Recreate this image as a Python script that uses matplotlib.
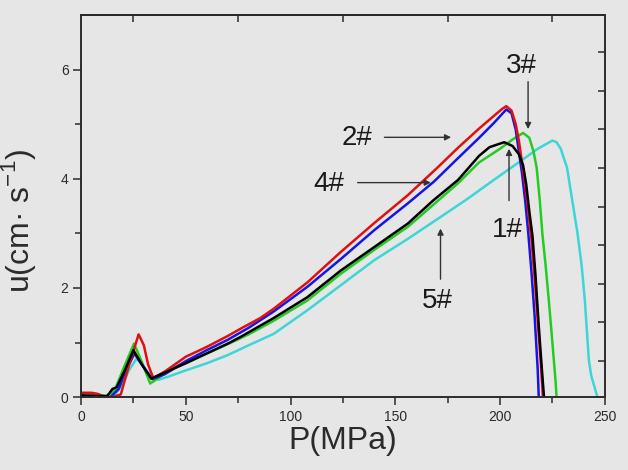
import matplotlib
matplotlib.use('Agg')
import matplotlib.pyplot as plt

plt.rcParams['font.family'] = ['Liberation Sans', 'DejaVu Sans']
plt.rcParams['mathtext.fontset'] = 'custom'
plt.rcParams['mathtext.rm'] = 'Liberation Sans'

# 1# black
x1 = [0, 8, 12.5, 15, 17, 21, 25, 29, 33.5, 40, 50, 60, 70, 76, 92, 108, 124, 140, 156, 168,
      180, 185, 190, 195, 202, 206, 209, 211, 212.5, 214, 215.5, 217, 218.5, 220, 221]
y1 = [0.03, 0.02, 0.02, 0.15, 0.18, 0.5, 0.86, 0.6, 0.34, 0.45, 0.62, 0.8, 0.98, 1.1, 1.45, 1.83,
      2.32, 2.75, 3.18, 3.6, 3.98, 4.2, 4.42, 4.58, 4.67, 4.6, 4.45, 4.25, 3.9, 3.4, 2.95, 2.2,
      1.3, 0.5, 0.0]
# 2# red
x2 = [0, 5, 8, 11, 15, 19, 23, 27.5, 30, 32, 34.5, 40, 50, 60, 70, 76, 85.6, 92, 108, 124, 140,
      156, 170, 180, 190, 197, 201, 203, 205.5, 207.5, 209, 210.5, 212, 213.5, 215, 216.5, 218,
      219.5, 220.5]
y2 = [0.08, 0.08, 0.06, 0.0, 0.0, 0.05, 0.6, 1.15, 0.95, 0.6, 0.35, 0.47, 0.74, 0.92, 1.12, 1.25,
      1.45, 1.62, 2.1, 2.66, 3.19, 3.7, 4.2, 4.57, 4.92, 5.15, 5.28, 5.33, 5.25, 5.0, 4.7, 4.3,
      3.9, 3.4, 2.9, 2.2, 1.4, 0.6, 0.0]
# 3# green
x3 = [0, 8, 12, 16, 20, 25.3, 29, 33, 37, 42, 50, 60, 70, 80, 92, 108, 124, 140, 156, 168, 180,
      190, 200, 206, 211, 214, 216, 217.5, 219, 220.2, 221.8, 223.3, 225, 226.5, 227]
y3 = [0.05, 0.05, 0.02, 0.12, 0.5, 0.98, 0.65, 0.25, 0.35, 0.5, 0.64, 0.8, 0.97, 1.15, 1.4, 1.77,
      2.26, 2.7, 3.12, 3.52, 3.92, 4.3, 4.55, 4.72, 4.84, 4.75, 4.5, 4.2, 3.6, 3.0, 2.4, 1.77,
      1.0, 0.3, 0.0]
# 4# blue
x4 = [0, 10, 14, 18, 21, 25.5, 29, 34, 40, 50, 60, 70, 80, 92, 108, 124, 140, 156, 168.5, 180,
      190, 197, 203, 205.5, 207.5, 209, 210.5, 212, 213.5, 215, 216.5, 218, 218.5]
y4 = [0.02, 0.02, 0.0, 0.15, 0.45, 0.8, 0.6, 0.33, 0.42, 0.66, 0.86, 1.05, 1.27, 1.57, 2.02,
      2.53, 3.06, 3.55, 3.95, 4.38, 4.75, 5.02, 5.27, 5.2, 4.9, 4.5, 4.1, 3.6, 3.0, 2.3, 1.5,
      0.5, 0.0]
# 5# cyan
x5 = [0, 10, 15.5, 20, 23, 26.6, 30, 33, 37, 42, 50, 60, 70, 80, 92, 108, 124, 140, 156, 171.6,
      184, 200, 210, 218, 225, 227, 229, 232, 234.5, 237, 239, 240.5, 242.4, 243.5, 245, 246.5]
y5 = [0.0, 0.0, 0.0, 0.25, 0.5, 0.71, 0.55, 0.4, 0.32, 0.38, 0.49, 0.62, 0.77, 0.95, 1.16, 1.59,
      2.05, 2.51, 2.9, 3.3, 3.62, 4.06, 4.33, 4.55, 4.70, 4.67, 4.55, 4.2, 3.6, 3.0, 2.4, 1.77,
      0.68, 0.4, 0.2, 0.0]

right_ticks = [0.66, 1.37, 2.08, 2.78, 3.49, 4.2, 4.91, 5.61, 6.32]
top_ticks = [25, 75, 125, 175, 225]

bg = '#e6e6e6'
ink = '#2b2b2b'
fig = plt.figure(figsize=(6.28, 4.70), dpi=100, facecolor=bg)
ax = fig.add_axes([0.129, 0.155, 0.834, 0.813], facecolor=bg)

lw = 1.8
ax.plot(x5, y5, color='#3cd6d6', lw=lw)
ax.plot(x3, y3, color='#22cc22', lw=lw)
ax.plot(x4, y4, color='#1515e6', lw=lw)
ax.plot(x2, y2, color='#e01010', lw=lw)
ax.plot(x1, y1, color='black', lw=lw)

ax.set_xlim(0, 250)
ax.set_ylim(0, 7)
ax.set_xticks([0, 50, 100, 150, 200, 250])
ax.set_xticks([25, 75, 125, 175, 225], minor=True)
ax.set_yticks([0, 2, 4, 6])
ax.set_yticks([1, 3, 5], minor=True)
ax.tick_params(which='major', direction='out', length=6, width=1.1, color=ink,
               labelsize=10, labelcolor=ink, pad=3)
ax.tick_params(which='minor', direction='out', length=4, width=1.1, color=ink)
for s in ax.spines.values():
    s.set_linewidth(1.2)
    s.set_color(ink)

sec = ax.secondary_xaxis('top')
sec.set_xticks(top_ticks)
sec.tick_params(direction='in', length=5, width=1.1, color=ink, labeltop=False)
sec.spines['top'].set_linewidth(1.2)

ax2 = ax.twinx()
ax2.set_ylim(0, 7)
ax2.set_yticks(right_ticks)
ax2.tick_params(direction='in', length=5, width=1.1, color=ink, labelright=False)
for s in ax2.spines.values():
    s.set_linewidth(1.2)
    s.set_color(ink)

ax.set_xlabel('P(MPa)', fontsize=23, color=ink, labelpad=2)
ax.set_ylabel('u(cm· s$^{\\mathregular{-1}}$)', fontsize=23, color=ink)
ax.yaxis.set_label_coords(-0.082, 0.46)

arrow = dict(arrowstyle='-|>', color='#333333', lw=1.0, mutation_scale=9)
tkw = dict(fontsize=20, color='#1a1a1a', ha='center', va='center')

ax.text(131.8, 4.74, '2#', **tkw)
ax.annotate('', xy=(178, 4.76), xytext=(143.5, 4.76), arrowprops=arrow)
ax.text(118.3, 3.9, '4#', **tkw)
ax.annotate('', xy=(168.3, 3.93), xytext=(130.7, 3.93), arrowprops=arrow)
ax.text(210.4, 6.07, '3#', **tkw)
ax.annotate('', xy=(213.4, 4.86), xytext=(213.4, 5.83), arrowprops=arrow)
ax.text(203.7, 3.07, '1#', **tkw)
ax.annotate('', xy=(204.3, 4.6), xytext=(204.3, 3.55), arrowprops=arrow)
ax.text(170, 1.77, '5#', **tkw)
ax.annotate('', xy=(171.6, 3.14), xytext=(171.6, 2.11), arrowprops=arrow)

fig.savefig('out.png', dpi=100, facecolor=bg)
